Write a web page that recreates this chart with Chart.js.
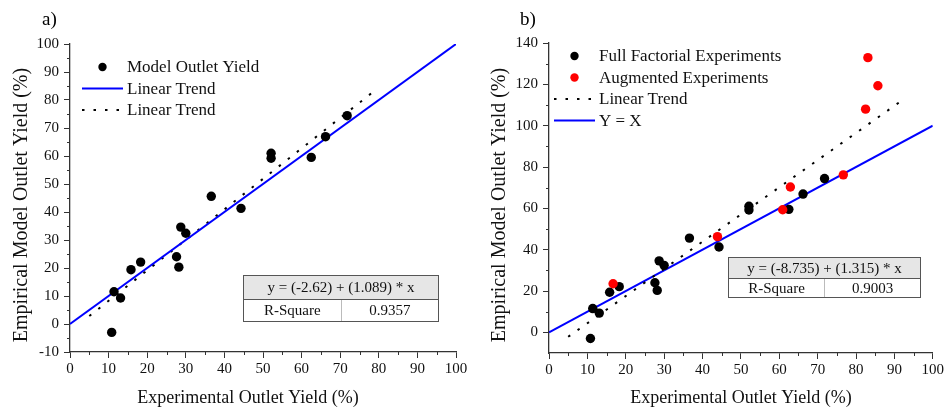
<!DOCTYPE html>
<html>
<head>
<meta charset="utf-8">
<script src="https://cdn.jsdelivr.net/npm/chart.js@4.4.1/dist/chart.umd.min.js"></script>
<style>
  body { margin: 0; background: #fff; width: 946px; height: 410px; position: relative; overflow: hidden; font-family: "Liberation Serif", "Times New Roman", serif; }
  .panel { position: absolute; top: 0; width: 473px; height: 410px; }
  .tag { position: absolute; top: 8px; font-size: 19px; color: #000; }
  table.fit { position: absolute; border-collapse: collapse; font-size: 15px; color: #111; table-layout: fixed; }
  table.fit td { border: 1px solid #555; text-align: center; padding: 0; line-height: 1; }
  table.fit tr.hd td { background: #e6e6e6; }
  table.fit td.lbl { border-right: 1px solid #bbb; }
</style>
</head>
<body>
<div class="panel" style="left:0"><canvas id="chartA" width="473" height="410"></canvas></div>
<div class="panel" style="left:473px"><canvas id="chartB" width="473" height="410"></canvas></div>
<div class="tag" style="left:42px">a)</div>
<div class="tag" style="left:520px">b)</div>
<table class="fit" style="left:243px;top:275px;width:196px">
  <tr class="hd" style="height:24px"><td colspan="2">y = (-2.62) + (1.089) * x</td></tr>
  <tr style="height:22px"><td class="lbl" style="width:83px">R-Square</td><td>0.9357</td></tr>
</table>
<table class="fit" style="left:728px;top:257px;width:193px">
  <tr class="hd" style="height:21px"><td colspan="2">y = (-8.735) + (1.315) * x</td></tr>
  <tr style="height:19px"><td class="lbl" style="width:84px">R-Square</td><td>0.9003</td></tr>
</table>
<script>
/* ============================================================
   DATA
============================================================ */
const expYield   = [10.8, 11.4, 13.1, 15.8, 18.3, 27.6, 28.2, 28.7, 30.0, 36.6, 44.3, 52.1, 52.1, 62.5, 66.2, 71.8];
const modelYield = [-3.0, 11.5,  9.3, 19.4, 22.1, 24.0, 20.3, 34.6, 32.4, 45.6, 41.3, 61.0, 59.2, 59.5, 66.9, 74.4];
const augExp     = [16.7, 43.9, 60.9, 62.9, 76.7, 82.5, 83.1, 85.7];
const augModel   = [23.5, 46.3, 59.3, 70.3, 76.2, 108.0, 132.9, 119.3];

const fitA = [-2.62, 1.089], fitRangeA = [5, 78];
const fitB = [-8.735, 1.315], fitRangeB = [5, 93];
const identityRange = [0, 100];

const xTicks  = [0, 10, 20, 30, 40, 50, 60, 70, 80, 90, 100];
const yTicksA = [-10, 0, 10, 20, 30, 40, 50, 60, 70, 80, 90, 100];
const yTicksB = [0, 20, 40, 60, 80, 100, 120, 140];

const FONT = "'Liberation Serif', 'Times New Roman', serif";
const AXIS = '#333';
const BLUE = '#0000ff';

const toPts = (xs, ys) => xs.map((x, i) => ({ x, y: ys[i] }));
const linePts = (range, [a, b]) => range.map(x => ({ x, y: a + b * x }));

/* ============================================================
   PLUGINS — minor ticks, legend, axis titles
============================================================ */
const minorTicks = {
  id: 'minorTicks',
  afterDraw(chart, args, o) {
    const { ctx } = chart, xs = chart.scales.x, ys = chart.scales.y;
    ctx.save();
    ctx.strokeStyle = AXIS; ctx.lineWidth = 1;
    ctx.beginPath();
    for (let v = xs.min + o.x; v < xs.max; v += o.x) {
      if (v % (o.x * 2) === 0) continue;
      const p = Math.round(xs.getPixelForValue(v)) + 0.5;
      ctx.moveTo(p, ys.bottom); ctx.lineTo(p, ys.bottom + 3);
    }
    for (let v = o.y0; v < ys.max; v += o.y) {
      if (v % (o.y * 2) === 0) continue;
      const p = Math.round(ys.getPixelForValue(v)) + 0.5;
      ctx.moveTo(xs.left, p); ctx.lineTo(xs.left - 3, p);
    }
    ctx.stroke();
    ctx.restore();
  }
};

const panelLegend = {
  id: 'panelLegend',
  afterDraw(chart, args, o) {
    const { ctx } = chart;
    ctx.save();
    ctx.font = '17px ' + FONT;
    ctx.textBaseline = 'middle';
    o.items.forEach((it, i) => {
      const y = o.y + i * o.gap;
      if (it.type === 'dot') {
        ctx.fillStyle = it.color;
        ctx.beginPath(); ctx.arc((o.x0 + o.x1) / 2, y, 4.2, 0, Math.PI * 2); ctx.fill();
      } else {
        ctx.strokeStyle = it.color; ctx.lineWidth = 2;
        ctx.setLineDash(it.dash || []);
        ctx.beginPath(); ctx.moveTo(o.x0, y); ctx.lineTo(o.x1, y); ctx.stroke();
        ctx.setLineDash([]);
      }
      ctx.fillStyle = '#111';
      ctx.fillText(it.label, o.tx, y + 1);
    });
    ctx.restore();
  }
};

const axisTitles = {
  id: 'axisTitles',
  afterDraw(chart, args, o) {
    const { ctx } = chart;
    ctx.save();
    ctx.fillStyle = '#111';
    ctx.textAlign = 'center'; ctx.textBaseline = 'middle';
    ctx.font = '18px ' + FONT;
    ctx.fillText(o.x.text, o.x.cx, o.x.cy);
    ctx.translate(o.y.cx, o.y.cy);
    ctx.rotate(-Math.PI / 2);
    ctx.font = '20px ' + FONT;
    ctx.fillText(o.y.text, 0, 0);
    ctx.restore();
  }
};

/* ============================================================
   CHART FACTORY
============================================================ */
const scaleOpts = (min, max, ticks, fitSize, isX) => ({
  type: 'linear', min, max,
  afterBuildTicks: s => { s.ticks = ticks.map(value => ({ value })); },
  afterFit: s => { if (isX) s.height = fitSize; else s.width = fitSize; },
  ticks: { color: '#111', font: { family: FONT, size: 15 }, padding: isX ? 2 : 5, maxRotation: 0, autoSkip: false },
  grid: { drawOnChartArea: false, drawTicks: true, tickLength: 6, color: AXIS, lineWidth: 1 },
  border: { color: AXIS, width: 1.3 }
});

const makeChart = (id, datasets, cfg) => new Chart(document.getElementById(id), {
  type: 'scatter',
  data: { datasets },
  options: {
    responsive: false, animation: false, devicePixelRatio: 1,
    layout: { padding: cfg.pad },
    scales: {
      x: scaleOpts(0, 100, xTicks, cfg.xh, true),
      y: scaleOpts(cfg.ymin, cfg.ymax, cfg.yticks, cfg.yw, false)
    },
    plugins: {
      legend: { display: false }, tooltip: { enabled: false },
      minorTicks: cfg.minor,
      panelLegend: cfg.legend,
      axisTitles: cfg.titles
    }
  },
  plugins: [minorTicks, panelLegend, axisTitles]
});

const dots = (data, color) => ({ data, backgroundColor: color, borderWidth: 0, pointRadius: 4.7, order: 0 });
const trend = (data, color, dash) => ({
  data, showLine: true, borderColor: color, borderWidth: 2, borderDash: dash || [],
  pointRadius: 0, fill: false, order: 2
});

const xTitle = 'Experimental Outlet Yield (%)';
const yTitle = 'Empirical Model Outlet Yield (%)';

// ── a) ──
makeChart('chartA', [
  dots(toPts(expYield, modelYield), '#000'),
  trend(linePts(identityRange, [0, 1]), BLUE),
  trend(linePts(fitRangeA, fitA), '#000', [2.5, 9])
], {
  pad: { left: 0, top: 44, right: 17, bottom: 0 },
  xh: 58, yw: 70, ymin: -10, ymax: 100, yticks: yTicksA,
  minor: { x: 5, y: 5, y0: -5 },
  legend: { x0: 82, x1: 123, tx: 127, y: 67, gap: 21.5, items: [
    { type: 'dot', color: '#000', label: 'Model Outlet Yield' },
    { type: 'line', color: BLUE, label: 'Linear Trend' },
    { type: 'line', color: '#000', dash: [2.5, 9], label: 'Linear Trend' }
  ] },
  titles: { x: { text: xTitle, cx: 248, cy: 398 }, y: { text: yTitle, cx: 22, cy: 205 } }
});

// ── b) ──
makeChart('chartB', [
  dots(toPts(augExp, augModel), '#ff0000'),
  dots(toPts(expYield, modelYield), '#000'),
  trend(linePts(fitRangeB, fitB), '#000', [2.5, 9]),
  trend(linePts(identityRange, [0, 1]), BLUE)
], {
  pad: { left: 0, top: 43, right: 12, bottom: 0 },
  xh: 57, yw: 76, ymin: -10, ymax: 140, yticks: yTicksB,
  minor: { x: 5, y: 10, y0: 10 },
  legend: { x0: 81, x1: 122, tx: 126, y: 56, gap: 21.5, items: [
    { type: 'dot', color: '#000', label: 'Full Factorial Experiments' },
    { type: 'dot', color: '#ff0000', label: 'Augmented Experiments' },
    { type: 'line', color: '#000', dash: [2.5, 9], label: 'Linear Trend' },
    { type: 'line', color: BLUE, label: 'Y = X' }
  ] },
  titles: { x: { text: xTitle, cx: 268, cy: 398 }, y: { text: yTitle, cx: 27, cy: 205 } }
});
</script>
</body>
</html>
